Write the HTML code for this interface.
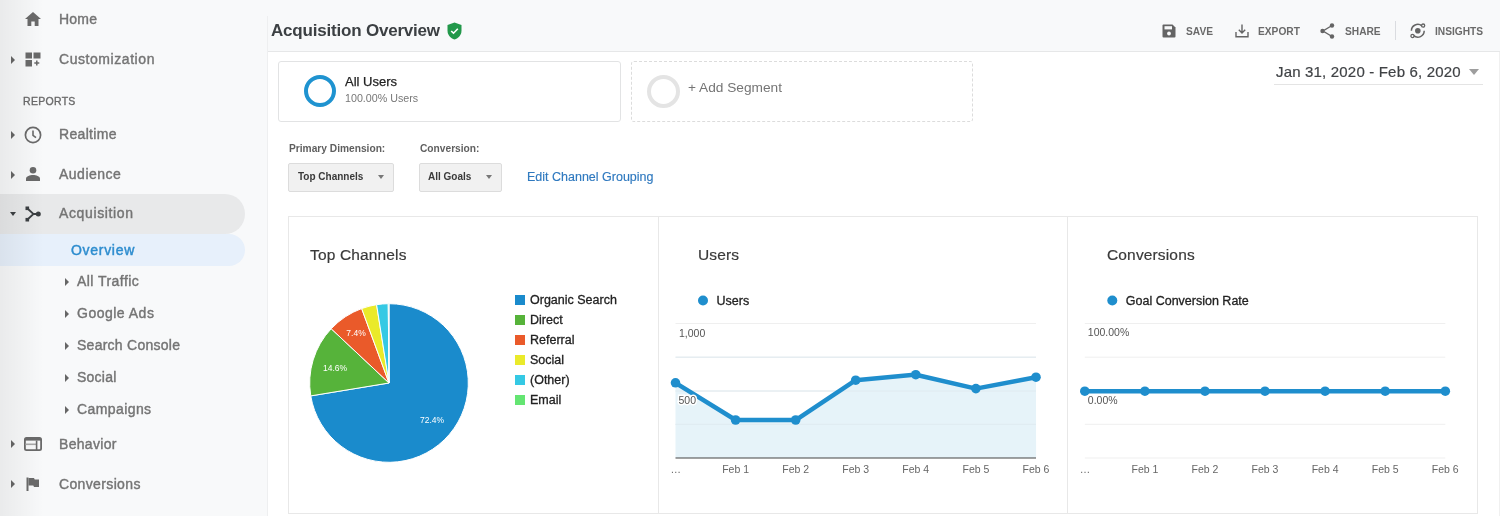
<!DOCTYPE html>
<html><head><meta charset="utf-8">
<style>
*{margin:0;padding:0;box-sizing:border-box}
html,body{width:1500px;height:516px;overflow:hidden;background:#fff;font-family:"Liberation Sans",sans-serif}
.a{position:absolute;white-space:nowrap}
#side{position:absolute;left:0;top:0;width:268px;height:516px;background:#f8f9fa}
#sideg{position:absolute;left:0;top:0;width:44px;height:516px;z-index:5;background:linear-gradient(to right,rgba(0,0,0,0.06),rgba(0,0,0,0))}
.si{font-size:14px;color:#747474;letter-spacing:0.2px;-webkit-text-stroke:0.4px #747474}
.tri{position:absolute;width:0;height:0;border-top:4px solid transparent;border-bottom:4px solid transparent;border-left:4.6px solid #666}
#hdr{position:absolute;left:268px;top:0;width:1232px;height:52px;background:#f8f9fa;border-bottom:1px solid #e6e7e8}
.hb{font-size:10.2px;font-weight:bold;color:#6a6a6a}
.panel{position:absolute;top:216px;height:298px;border:1px solid #e8e8e8;background:#fff}
.ttl{font-size:15.5px;color:#3a3a3a;letter-spacing:0.15px;-webkit-text-stroke:0.2px #3a3a3a}
.ax{font-size:10.5px;color:#666}
.lg{font-size:12.5px;color:#222;-webkit-text-stroke:0.3px #222}
</style></head><body><div id="wrap" style="position:absolute;left:0;top:0;width:1500px;height:516px;will-change:transform">
<div id="side"></div>
<div id="sideg"></div>
<div class="a" style="left:267px;top:16px;width:1px;height:500px;background:#eeeff0"></div>

<!-- sidebar items -->
<svg class="a" style="left:25px;top:12px" width="16" height="15" viewBox="0 0 16 15"><path d="M8 0 L16 7 H13.5 V14 H9.7 V9.5 H6.3 V14 H2.5 V7 H0 Z" fill="#6a6a6a"/></svg>
<div class="a si" style="left:59px;top:11px;letter-spacing:0.22px">Home</div>

<div class="tri" style="left:11px;top:56px"></div>
<svg class="a" style="left:25px;top:52px" width="16" height="15" viewBox="0 0 16 15"><rect x="0.5" y="0.5" width="6.5" height="6" fill="#6a6a6a"/><rect x="8.5" y="0.5" width="7" height="6" fill="#6a6a6a"/><rect x="0.5" y="8" width="6.5" height="6.5" fill="#6a6a6a"/><path d="M11.8 8.5v5M9.3 11h5" stroke="#6a6a6a" stroke-width="1.5"/></svg>
<div class="a si" style="left:59px;top:51px;letter-spacing:0.56px">Customization</div>

<div class="a" style="left:23px;top:95px;font-size:10.5px;color:#6a6a6a;letter-spacing:0.3px;-webkit-text-stroke:0.35px #6a6a6a">REPORTS</div>

<div class="tri" style="left:11px;top:131px"></div>
<svg class="a" style="left:24px;top:126px" width="18" height="18" viewBox="0 0 18 18"><circle cx="9" cy="9" r="7.6" fill="none" stroke="#6a6a6a" stroke-width="1.7"/><path d="M9 4.5V9.3L12 11.6" fill="none" stroke="#6a6a6a" stroke-width="1.6"/></svg>
<div class="a si" style="left:59px;top:126px;letter-spacing:0.32px">Realtime</div>

<div class="tri" style="left:11px;top:171px"></div>
<svg class="a" style="left:25px;top:167px" width="16" height="14" viewBox="0 0 16 14"><circle cx="8" cy="3.3" r="3.3" fill="#6a6a6a"/><path d="M1 14 V11.6 C1 9.2 5 8 8 8 C11 8 15 9.2 15 11.6 V14 Z" fill="#6a6a6a"/></svg>
<div class="a si" style="left:59px;top:166px;letter-spacing:0.5px">Audience</div>

<div class="a" style="left:0;top:194px;width:245px;height:40px;background:#e8e9ea;border-radius:0 20px 20px 0"></div>
<div class="a" style="left:10px;top:212px;width:0;height:0;border-left:3.5px solid transparent;border-right:3.5px solid transparent;border-top:4px solid #3c4043"></div>
<svg class="a" style="left:25px;top:206px" width="16" height="16" viewBox="0 0 16 16"><path d="M2.5 2.5 L8.5 8 L2.5 13.5 M8.5 8 H13" fill="none" stroke="#3c4043" stroke-width="1.8"/><rect x="0.5" y="0.5" width="3.6" height="3.6" fill="#3c4043"/><rect x="0.5" y="11.9" width="3.6" height="3.6" fill="#3c4043"/><circle cx="13.3" cy="8" r="2.5" fill="#3c4043"/></svg>
<div class="a si" style="left:59px;top:205px;letter-spacing:0.63px">Acquisition</div>

<div class="a" style="left:0;top:234px;width:245px;height:32px;background:#e7f0fb;border-radius:0 16px 16px 0"></div>
<div class="a si" style="left:71px;top:242px;color:#2e8dcf;-webkit-text-stroke:0.45px #2e8dcf;letter-spacing:0.7px">Overview</div>

<div class="tri" style="left:65px;top:278px"></div>
<div class="a si" style="left:77px;top:273px;letter-spacing:0.45px">All Traffic</div>
<div class="tri" style="left:65px;top:310px"></div>
<div class="a si" style="left:77px;top:305px;letter-spacing:0.5px">Google Ads</div>
<div class="tri" style="left:65px;top:342px"></div>
<div class="a si" style="left:77px;top:337px;letter-spacing:0.26px">Search Console</div>
<div class="tri" style="left:65px;top:374px"></div>
<div class="a si" style="left:77px;top:369px;letter-spacing:0.23px">Social</div>
<div class="tri" style="left:65px;top:406px"></div>
<div class="a si" style="left:77px;top:401px;letter-spacing:0.41px">Campaigns</div>

<div class="tri" style="left:11px;top:440px"></div>
<svg class="a" style="left:24px;top:437px" width="18" height="14" viewBox="0 0 18 14"><rect x="0.9" y="0.9" width="16.2" height="12.2" rx="1.6" fill="none" stroke="#6a6a6a" stroke-width="1.8"/><rect x="1" y="1" width="16" height="2.6" fill="#6a6a6a"/><path d="M1.5 7.3 H12" stroke="#a8a8a8" stroke-width="1.6"/><path d="M12.6 3.5 V13" stroke="#6a6a6a" stroke-width="1.6"/></svg>
<div class="a si" style="left:59px;top:436px;letter-spacing:0.31px">Behavior</div>

<div class="tri" style="left:11px;top:480px"></div>
<svg class="a" style="left:26px;top:477px" width="14" height="14" viewBox="0 0 14 14"><path d="M1.5 0.5 V14" stroke="#6a6a6a" stroke-width="2"/><path d="M2.5 1 H8 L8.7 2.5 H13 V10 H8 L7.3 8.5 H2.5 Z" fill="#6a6a6a"/></svg>
<div class="a si" style="left:59px;top:476px;letter-spacing:0.36px">Conversions</div>

<!-- header -->
<div id="hdr"></div>
<div class="a" style="left:271px;top:20.5px;font-size:17px;font-weight:bold;color:#3c4043;letter-spacing:-0.2px">Acquisition Overview</div>
<svg class="a" style="left:447px;top:22px" width="15" height="18" viewBox="0 0 15 18"><path d="M7.5 0.5 L14.5 3 V8.5 C14.5 13 11.5 16.3 7.5 17.5 C3.5 16.3 0.5 13 0.5 8.5 V3 Z" fill="#22984a"/><path d="M4.2 9 L6.5 11.2 L10.8 6.8" fill="none" stroke="#fff" stroke-width="1.6"/></svg>

<svg class="a" style="left:1162px;top:24px" width="14" height="14" viewBox="0 0 14 14"><path d="M1.5 0.5 H10.5 L13.5 3.5 V12.5 Q13.5 13.5 12.5 13.5 H1.5 Q0.5 13.5 0.5 12.5 V1.5 Q0.5 0.5 1.5 0.5 Z" fill="#646464"/><rect x="2.5" y="2.2" width="7.5" height="3.2" fill="#f8f9fa"/><circle cx="7" cy="9.5" r="1.9" fill="#f8f9fa"/></svg>
<div class="a hb" style="left:1186px;top:26px">SAVE</div>
<svg class="a" style="left:1235px;top:24px" width="14" height="14" viewBox="0 0 14 14"><path d="M7 0.5 V9 M3.8 5.8 L7 9 L10.2 5.8 M1 8 V12.8 H13 V8" fill="none" stroke="#646464" stroke-width="1.4"/></svg>
<div class="a hb" style="left:1258px;top:26px">EXPORT</div>
<svg class="a" style="left:1320px;top:23px" width="15" height="16" viewBox="0 0 15 16"><path d="M12 2.5 L3 8 L12 13.5" fill="none" stroke="#646464" stroke-width="1.4"/><circle cx="12" cy="2.5" r="2.2" fill="#646464"/><circle cx="2.5" cy="8" r="2.2" fill="#646464"/><circle cx="12" cy="13.5" r="2.2" fill="#646464"/></svg>
<div class="a hb" style="left:1345px;top:26px">SHARE</div>
<div class="a" style="left:1395px;top:21px;width:1px;height:19px;background:#dadce0"></div>
<svg class="a" style="left:1409px;top:22px" width="18" height="18" viewBox="0 0 18 18"><path d="M2.4 8.8 A6.4 6.4 0 0 1 12.9 3.9 M15.2 8.8 A6.4 6.4 0 0 1 4.7 13.7" fill="none" stroke="#646464" stroke-width="1.5"/><circle cx="8.8" cy="8.8" r="2.8" fill="#646464"/><circle cx="14.1" cy="3.6" r="1.6" fill="none" stroke="#646464" stroke-width="1.3"/><circle cx="3.5" cy="14" r="1.6" fill="none" stroke="#646464" stroke-width="1.3"/></svg>
<div class="a hb" style="left:1435px;top:26px">INSIGHTS</div>

<!-- segments -->
<div class="a" style="left:278px;top:61px;width:343px;height:61px;border:1px solid #e2e3e4;border-radius:3px;background:#fff"></div>
<div class="a" style="left:304px;top:75px;width:32px;height:32px;border:4.4px solid #1f93d0;border-radius:50%"></div>
<div class="a" style="left:345px;top:74px;font-size:13px;color:#222;-webkit-text-stroke:0.25px #222">All Users</div>
<div class="a" style="left:345px;top:92px;font-size:10.7px;color:#777">100.00% Users</div>

<div class="a" style="left:631px;top:61px;width:342px;height:61px;border:1px dashed #dcdcdc;border-radius:3px"></div>
<div class="a" style="left:647px;top:75px;width:33px;height:33px;border:4px solid #e4e4e4;border-radius:50%"></div>
<div class="a" style="left:688px;top:80px;font-size:13.7px;color:#757575">+ Add Segment</div>

<!-- date -->
<div class="a" style="left:1276px;top:63px;font-size:15px;color:#404346;letter-spacing:0.18px;-webkit-text-stroke:0.2px #404346">Jan 31, 2020 - Feb 6, 2020</div>
<div class="a" style="left:1469px;top:69px;width:0;height:0;border-left:5.5px solid transparent;border-right:5.5px solid transparent;border-top:6px solid #9e9e9e"></div>
<div class="a" style="left:1274px;top:84px;width:209px;height:1px;background:#e4e4e4"></div>
<div class="a" style="left:1499px;top:52px;width:1px;height:464px;background:#f0f0f0"></div>

<!-- dimension -->
<div class="a" style="left:289px;top:143px;font-size:10.2px;font-weight:bold;color:#5f5f5f">Primary Dimension:</div>
<div class="a" style="left:420px;top:143px;font-size:10.2px;font-weight:bold;color:#5f5f5f">Conversion:</div>
<div class="a" style="left:288px;top:163px;width:106px;height:29px;background:#f1f1f1;border:1px solid #dcdcdc;border-radius:2px"></div>
<div class="a" style="left:298px;top:171px;font-size:10px;font-weight:bold;color:#3a3a3a">Top Channels</div>
<div class="a" style="left:378px;top:175px;width:0;height:0;border-left:3.8px solid transparent;border-right:3.8px solid transparent;border-top:4.5px solid #777"></div>
<div class="a" style="left:419px;top:163px;width:83px;height:29px;background:#f1f1f1;border:1px solid #dcdcdc;border-radius:2px"></div>
<div class="a" style="left:428px;top:171px;font-size:10px;font-weight:bold;color:#3a3a3a">All Goals</div>
<div class="a" style="left:486px;top:175px;width:0;height:0;border-left:3.8px solid transparent;border-right:3.8px solid transparent;border-top:4.5px solid #777"></div>
<div class="a" style="left:527px;top:170px;font-size:12.5px;color:#2f79bf;-webkit-text-stroke:0.15px #2f79bf">Edit Channel Grouping</div>

<!-- panels -->
<div class="panel" style="left:288px;width:371px"></div>
<div class="panel" style="left:658px;width:410px"></div>
<div class="panel" style="left:1067px;width:411px"></div>

<div class="a ttl" style="left:310px;top:246px">Top Channels</div>
<div class="a ttl" style="left:698px;top:246px">Users</div>
<div class="a ttl" style="left:1107px;top:246px">Conversions</div>

<!-- pie -->
<svg class="a" style="left:300px;top:294px" width="180" height="180" viewBox="0 0 180 180" id="pie"><path d="M89,89 L89.00,9.70 A79.3,79.3 0 1 1 10.76,101.90 Z" fill="#1a8bcc" stroke="#fff" stroke-width="1"/><path d="M89,89 L10.76,101.90 A79.3,79.3 0 0 1 31.19,34.72 Z" fill="#56b33a" stroke="#fff" stroke-width="1"/><path d="M89,89 L31.19,34.72 A79.3,79.3 0 0 1 61.67,14.56 Z" fill="#ea5a2a" stroke="#fff" stroke-width="1"/><path d="M89,89 L61.67,14.56 A79.3,79.3 0 0 1 76.59,10.68 Z" fill="#eaea2a" stroke="#fff" stroke-width="1"/><path d="M89,89 L76.59,10.68 A79.3,79.3 0 0 1 88.25,9.70 Z" fill="#35c9e4" stroke="#fff" stroke-width="1"/><path d="M89,89 L88.25,9.70 A79.3,79.3 0 0 1 89.00,9.70 Z" fill="#64e572" stroke="#fff" stroke-width="1"/><text x="132" y="129" font-size="8.5" fill="#fff" font-family="Liberation Sans" text-anchor="middle">72.4%</text><text x="35" y="77" font-size="8.5" fill="#fff" font-family="Liberation Sans" text-anchor="middle">14.6%</text><text x="56" y="42" font-size="8.5" fill="#fff" font-family="Liberation Sans" text-anchor="middle">7.4%</text></svg>

<!-- legend -->
<div class="a" style="left:515px;top:295px;width:10px;height:10px;background:#1a8bcc"></div>
<div class="a lg" style="left:530px;top:293px">Organic Search</div>
<div class="a" style="left:515px;top:315px;width:10px;height:10px;background:#56b33a"></div>
<div class="a lg" style="left:530px;top:313px">Direct</div>
<div class="a" style="left:515px;top:335px;width:10px;height:10px;background:#ea5a2a"></div>
<div class="a lg" style="left:530px;top:333px">Referral</div>
<div class="a" style="left:515px;top:355px;width:10px;height:10px;background:#eaea2a"></div>
<div class="a lg" style="left:530px;top:353px">Social</div>
<div class="a" style="left:515px;top:375px;width:10px;height:10px;background:#35c9e4"></div>
<div class="a lg" style="left:530px;top:373px">(Other)</div>
<div class="a" style="left:515px;top:395px;width:10px;height:10px;background:#64e572"></div>
<div class="a lg" style="left:530px;top:393px">Email</div>

<!-- users chart -->
<svg class="a" style="left:660px;top:290px" width="400" height="200" viewBox="660 290 400 200" id="uc"><line x1="675.5" y1="323.5" x2="1036" y2="323.5" stroke="#efefef" stroke-width="1"/><line x1="675.5" y1="357.2" x2="1036" y2="357.2" stroke="#efefef" stroke-width="1"/><line x1="675.5" y1="391.0" x2="1036" y2="391.0" stroke="#efefef" stroke-width="1"/><line x1="675.5" y1="424.3" x2="1036" y2="424.3" stroke="#efefef" stroke-width="1"/><polygon points="675.5,458.0 675.5,382.8 735.6,420.0 795.7,420.0 855.7,380.2 915.8,374.7 975.9,388.6 1036.0,377.2 1036.1,458.0" fill="#e6f3f9"/><line x1="675.5" y1="357.2" x2="1036" y2="357.2" stroke="#dfeaf0" stroke-width="1"/><line x1="675.5" y1="391.0" x2="1036" y2="391.0" stroke="#dfeaf0" stroke-width="1"/><line x1="675.5" y1="424.3" x2="1036" y2="424.3" stroke="#dfeaf0" stroke-width="1"/><line x1="675.5" y1="458.0" x2="1036" y2="458.0" stroke="#444" stroke-width="1.2"/><polyline points="675.5,382.8 735.6,420.0 795.7,420.0 855.7,380.2 915.8,374.7 975.9,388.6 1036.0,377.2" fill="none" stroke="#1f8ecd" stroke-width="4.5" stroke-linejoin="round"/><circle cx="675.5" cy="382.8" r="4.8" fill="#1f8ecd"/><circle cx="735.6" cy="420.0" r="4.8" fill="#1f8ecd"/><circle cx="795.7" cy="420.0" r="4.8" fill="#1f8ecd"/><circle cx="855.7" cy="380.2" r="4.8" fill="#1f8ecd"/><circle cx="915.8" cy="374.7" r="4.8" fill="#1f8ecd"/><circle cx="975.9" cy="388.6" r="4.8" fill="#1f8ecd"/><circle cx="1036.0" cy="377.2" r="4.8" fill="#1f8ecd"/><text x="679" y="336.5" font-size="10.5" fill="#555" stroke="#fff" stroke-width="3" paint-order="stroke" font-family="Liberation Sans">1,000</text><text x="678.5" y="404" font-size="10.5" fill="#555" stroke="#fff" stroke-width="3" paint-order="stroke" font-family="Liberation Sans">500</text><text x="670.5" y="472.5" font-size="10.5" fill="#666" font-family="Liberation Sans">…</text><text x="735.6" y="472.5" font-size="10.5" fill="#666" font-family="Liberation Sans" text-anchor="middle">Feb 1</text><text x="795.7" y="472.5" font-size="10.5" fill="#666" font-family="Liberation Sans" text-anchor="middle">Feb 2</text><text x="855.7" y="472.5" font-size="10.5" fill="#666" font-family="Liberation Sans" text-anchor="middle">Feb 3</text><text x="915.8" y="472.5" font-size="10.5" fill="#666" font-family="Liberation Sans" text-anchor="middle">Feb 4</text><text x="975.9" y="472.5" font-size="10.5" fill="#666" font-family="Liberation Sans" text-anchor="middle">Feb 5</text><text x="1036.0" y="472.5" font-size="10.5" fill="#666" font-family="Liberation Sans" text-anchor="middle">Feb 6</text><circle cx="703" cy="300.5" r="5" fill="#1f8ecd"/><text x="716.5" y="305" font-size="12.5" fill="#222" stroke="#222" stroke-width="0.3" font-family="Liberation Sans">Users</text></svg>
<svg class="a" style="left:1069px;top:290px" width="400" height="200" viewBox="1069 290 400 200" id="cc"><line x1="1084.8" y1="323.5" x2="1445.3" y2="323.5" stroke="#efefef" stroke-width="1"/><line x1="1084.8" y1="357.2" x2="1445.3" y2="357.2" stroke="#efefef" stroke-width="1"/><line x1="1084.8" y1="391.0" x2="1445.3" y2="391.0" stroke="#efefef" stroke-width="1"/><line x1="1084.8" y1="424.3" x2="1445.3" y2="424.3" stroke="#efefef" stroke-width="1"/><line x1="1084.8" y1="458.0" x2="1445.3" y2="458.0" stroke="#efefef" stroke-width="1"/><polyline points="1084.8,391.2 1144.9,391.2 1205.0,391.2 1265.0,391.2 1325.1,391.2 1385.2,391.2 1445.3,391.2" fill="none" stroke="#1f8ecd" stroke-width="4.5"/><circle cx="1084.8" cy="391.2" r="4.8" fill="#1f8ecd"/><circle cx="1144.9" cy="391.2" r="4.8" fill="#1f8ecd"/><circle cx="1205.0" cy="391.2" r="4.8" fill="#1f8ecd"/><circle cx="1265.0" cy="391.2" r="4.8" fill="#1f8ecd"/><circle cx="1325.1" cy="391.2" r="4.8" fill="#1f8ecd"/><circle cx="1385.2" cy="391.2" r="4.8" fill="#1f8ecd"/><circle cx="1445.3" cy="391.2" r="4.8" fill="#1f8ecd"/><text x="1087.8" y="336" font-size="10.5" fill="#555" stroke="#fff" stroke-width="3" paint-order="stroke" font-family="Liberation Sans">100.00%</text><text x="1087.8" y="403.5" font-size="10.5" fill="#555" stroke="#fff" stroke-width="3" paint-order="stroke" font-family="Liberation Sans">0.00%</text><text x="1079.8" y="472.5" font-size="10.5" fill="#666" font-family="Liberation Sans">…</text><text x="1144.9" y="472.5" font-size="10.5" fill="#666" font-family="Liberation Sans" text-anchor="middle">Feb 1</text><text x="1205.0" y="472.5" font-size="10.5" fill="#666" font-family="Liberation Sans" text-anchor="middle">Feb 2</text><text x="1265.0" y="472.5" font-size="10.5" fill="#666" font-family="Liberation Sans" text-anchor="middle">Feb 3</text><text x="1325.1" y="472.5" font-size="10.5" fill="#666" font-family="Liberation Sans" text-anchor="middle">Feb 4</text><text x="1385.2" y="472.5" font-size="10.5" fill="#666" font-family="Liberation Sans" text-anchor="middle">Feb 5</text><text x="1445.3" y="472.5" font-size="10.5" fill="#666" font-family="Liberation Sans" text-anchor="middle">Feb 6</text><circle cx="1112.3" cy="300.5" r="5" fill="#1f8ecd"/><text x="1125.8" y="305" font-size="12.5" fill="#222" stroke="#222" stroke-width="0.3" font-family="Liberation Sans">Goal Conversion Rate</text></svg>
</div></body></html>
